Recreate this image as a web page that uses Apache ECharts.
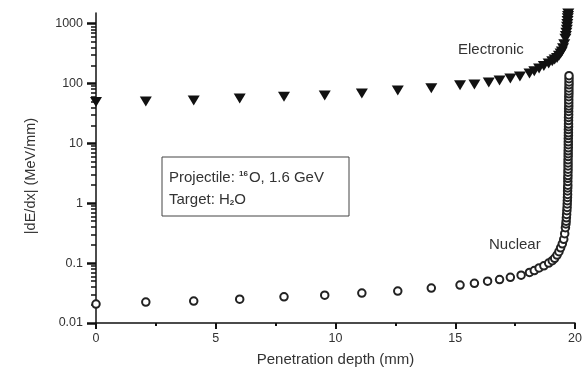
<!DOCTYPE html>
<html>
<head>
<meta charset="utf-8">
<script src="https://cdn.jsdelivr.net/npm/echarts@6/dist/echarts.min.js"></script>
<style>
  html, body { margin: 0; padding: 0; background: #fff; }
  #chart { width: 587px; height: 372px; }
</style>
</head>
<body>
<div id="chart"></div>
<script>
// electronic stopping (triangles)
const depthElectronic = [0, 2.08, 4.08, 6.0, 7.85, 9.55, 11.1, 12.6, 14.0, 15.2, 15.8, 16.4, 16.85, 17.3, 17.7,
  18.1, 18.3, 18.5, 18.7, 18.9, 19.05, 19.15, 19.25, 19.33, 19.4, 19.45, 19.5, 19.55, 19.6, 19.62, 19.64, 19.66,
  19.67, 19.68, 19.69, 19.7, 19.71, 19.72];
const dedxElectronic = [49, 50, 52, 56, 60, 63, 68, 76, 83, 93, 96, 104, 112, 121, 131,
  147, 160, 178, 195, 215, 235, 250, 265, 290, 315, 340, 385, 450, 560, 620, 700, 790,
  880, 980, 1100, 1220, 1340, 1470];

// nuclear stopping (open circles)
const depthNuclear = [0, 2.08, 4.08, 6.0, 7.85, 9.55, 11.1, 12.6, 14.0, 15.2, 15.8, 16.35, 16.85, 17.3, 17.75,
  18.1, 18.3, 18.5, 18.7, 18.9, 19.05, 19.15, 19.25, 19.33, 19.4, 19.47, 19.53, 19.57,
  19.6, 19.62, 19.63, 19.64, 19.65, 19.66, 19.67, 19.675, 19.68, 19.685, 19.69, 19.69, 19.695, 19.7, 19.7, 19.7,
  19.705, 19.705, 19.71, 19.71, 19.71, 19.71, 19.715, 19.715, 19.715, 19.72, 19.72, 19.72, 19.72, 19.725, 19.725,
  19.725, 19.73, 19.73, 19.73, 19.73, 19.735, 19.735, 19.735, 19.74, 19.74, 19.74, 19.74, 19.745, 19.745, 19.745,
  19.75, 19.75, 19.75, 19.75];
const dedxNuclear = [0.0207, 0.0224, 0.0232, 0.025, 0.0274, 0.0292, 0.0316, 0.0341, 0.0383, 0.043, 0.046, 0.05, 0.053, 0.058, 0.063,
  0.07, 0.075, 0.083, 0.09, 0.1, 0.11, 0.12, 0.136, 0.155, 0.18, 0.21, 0.25, 0.31,
  0.39, 0.45, 0.5, 0.57, 0.65, 0.75, 0.85, 0.97, 1.1, 1.25, 1.4, 1.6, 1.8, 2.0, 2.3, 2.6,
  2.9, 3.3, 3.7, 4.2, 4.7, 5.3, 6, 6.7, 7.5, 8.4, 9.5, 10.6, 12, 13.5, 15,
  17, 19, 21, 24, 27, 30, 34, 38, 42, 47, 53, 60, 67, 75, 84,
  95, 106, 120, 135];

const yTickLabels = ['0.01', '0.1', '1', '10', '100', '1000'];
const yMajorTicks = [0.01, 0.1, 1, 10, 100, 1000];
const yMinorSteps = [2, 3, 4, 5, 6, 7, 8, 9];

const yMinorTicks = [];
yMajorTicks.forEach((d) => yMinorSteps.forEach((m) => {
  if (d * m <= 1500) yMinorTicks.push(d * m);
}));

const pairs = (xs, ys) => xs.map((x, i) => [x, ys[i]]);

const chart = echarts.init(document.getElementById('chart'));
const font = '"Liberation Sans", Arial, sans-serif';
const ink = '#111';

const yBase = {
  type: 'log',
  logBase: 10,
  min: 0.01,
  max: 1500,
  position: 'left',
  offset: 0,
  splitLine: { show: false }
};

chart.setOption({
  animation: false,
  textStyle: { fontFamily: font },
  grid: { left: 96, right: 12, top: 13, bottom: 48 },
  xAxis: {
    type: 'value',
    min: 0,
    max: 20,
    interval: 5,
    name: 'Penetration depth (mm)',
    nameLocation: 'middle',
    nameGap: 29,
    nameTextStyle: { fontSize: 15, color: '#333', fontFamily: font },
    axisLine: { onZero: false, lineStyle: { color: ink, width: 1.5 } },
    axisTick: { length: 6, lineStyle: { color: ink, width: 2 } },
    minorTick: { show: true, splitNumber: 2, length: 3, lineStyle: { color: ink, width: 2 } },
    axisLabel: { fontSize: 12.5, color: '#333', margin: 9 },
    splitLine: { show: false }
  },
  yAxis: [
    Object.assign({}, yBase, {
      name: '|dE/dx| (MeV/mm)',
      nameLocation: 'middle',
      nameGap: 58,
      nameTextStyle: { fontSize: 14.5, color: '#333', fontFamily: font, padding: [0, 16, 0, 0] },
      axisLine: { show: true, lineStyle: { color: ink, width: 1.5 } },
      axisTick: { length: 9, customValues: yMajorTicks, lineStyle: { color: ink, width: 2.5 } },
      axisLabel: {
        fontSize: 12.5,
        color: '#333',
        margin: 13,
        customValues: yMajorTicks,
        formatter: (v) => yTickLabels[yMajorTicks.findIndex((t) => Math.abs(t - v) / t < 1e-6)] || ''
      }
    }),
    Object.assign({}, yBase, {
      axisLine: { show: false },
      axisTick: { length: 5, customValues: yMinorTicks, lineStyle: { color: ink, width: 1.5 } },
      axisLabel: { show: false }
    })
  ],
  series: [
    {
      name: 'Electronic',
      type: 'scatter',
      data: pairs(depthElectronic, dedxElectronic),
      symbol: 'triangle',
      symbolRotate: 180,
      symbolSize: [12, 10],
      itemStyle: { color: ink, opacity: 1 }
    },
    {
      name: 'Nuclear',
      type: 'scatter',
      data: pairs(depthNuclear, dedxNuclear),
      symbol: 'emptyCircle',
      symbolSize: 7.5,
      itemStyle: { color: '#222', borderColor: '#222', borderWidth: 1.3, opacity: 1 }
    }
  ],
  graphic: [
    {
      type: 'text',
      left: 458,
      top: 42,
      style: { text: 'Electronic', font: '15px ' + font, fill: '#333' }
    },
    {
      type: 'text',
      left: 489,
      top: 237,
      style: { text: 'Nuclear', font: '15px ' + font, fill: '#333' }
    },
    {
      type: 'rect',
      shape: { x: 162, y: 157, width: 187, height: 59 },
      style: { fill: '#fff', stroke: '#444', lineWidth: 1 }
    },
    {
      type: 'text',
      x: 169,
      y: 170,
      style: {
        text: '{n|Projectile: }{s|16}{n|O, 1.6 GeV}',
        rich: {
          n: { font: '15px ' + font, fill: '#333' },
          s: { font: 'bold 8px ' + font, fill: '#333', verticalAlign: 'top', padding: [0, 1, 7, 0] }
        }
      }
    },
    {
      type: 'text',
      x: 169,
      y: 192,
      style: {
        text: '{n|Target: H}{b|2}{n|O}',
        rich: {
          n: { font: '15px ' + font, fill: '#333' },
          b: { font: 'bold 8px ' + font, fill: '#333', verticalAlign: 'bottom', padding: [7, 0, 0, 0] }
        }
      }
    }
  ]
});

window.addEventListener('resize', () => chart.resize());
</script>
</body>
</html>
